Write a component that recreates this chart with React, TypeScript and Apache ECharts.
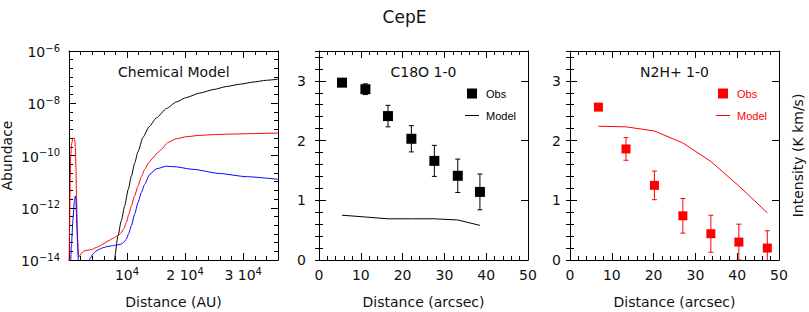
import React, { useEffect, useRef } from "react";
import * as echarts from "echarts";

// ---------- Left panel: chemical model (distance in AU, log10 abundance) ----------
const blackDistAU = [7500, 7800, 8440, 9000, 9590, 10200, 10740, 11300, 11890, 12750, 13800, 15050, 16800, 18500, 20220, 22500, 25000, 27100, 29500, 31700, 34000, 36000];
const blackLogAbund = [-15, -14.0, -13.07, -12.5, -11.93, -11.3, -10.79, -10.3, -9.85, -9.3, -8.9, -8.56, -8.2, -7.95, -7.78, -7.61, -7.47, -7.36, -7.27, -7.19, -7.12, -7.08];

const redDistAU = [0, 100, 200, 300, 450, 650, 850, 1000, 1100, 1200, 1300, 1420, 1550, 1700, 1850, 2200, 2700, 3300, 3860, 4500, 5290, 6000, 6720, 7500, 8160, 8600, 9020, 9450, 9880, 10300, 10740, 11300, 11890, 12450, 13040, 13700, 14470, 15200, 15910, 17000, 18500, 20220, 22500, 25000, 28000, 32000, 36000];
const redLogAbund = [-14.6, -12.8, -11.0, -10.0, -9.55, -9.38, -9.32, -9.4, -9.7, -10.5, -11.6, -12.8, -13.6, -13.88, -13.84, -13.72, -13.65, -13.62, -13.6, -13.54, -13.46, -13.37, -13.27, -13.18, -13.1, -13.04, -12.95, -12.8, -12.56, -12.25, -11.93, -11.55, -11.17, -10.82, -10.53, -10.28, -10.09, -9.9, -9.77, -9.5, -9.36, -9.28, -9.23, -9.2, -9.18, -9.16, -9.14];

const blueDistAU = [0, 200, 410, 690, 900, 1100, 1200, 1270, 1450, 1620, 1750, 3000, 3300, 3570, 4130, 4700, 5290, 6000, 6720, 7500, 8160, 9020, 9450, 9880, 10300, 10740, 11300, 11890, 12450, 13040, 13900, 15050, 16780, 18210, 21360, 25950, 30540, 36000];
const blueLogAbund = [-15.5, -14.5, -13.46, -12.44, -11.8, -11.55, -11.7, -12.18, -13.2, -14.1, -15.3, -15.3, -14.6, -13.96, -13.77, -13.65, -13.58, -13.52, -13.48, -13.45, -13.43, -13.39, -13.32, -13.2, -12.98, -12.69, -12.25, -11.8, -11.42, -11.1, -10.72, -10.51, -10.41, -10.43, -10.53, -10.69, -10.81, -10.91];

// ---------- Middle panel: C18O 1-0 ----------
const c18oDist = [5.5, 11.1, 16.5, 22.1, 27.6, 33.2, 38.5];
const c18oObs = [2.97, 2.86, 2.41, 2.03, 1.66, 1.41, 1.14];
const c18oErr = [0.03, 0.09, 0.18, 0.22, 0.26, 0.28, 0.3];
const c18oModel = [0.75, 0.72, 0.69, 0.69, 0.69, 0.67, 0.58];

// ---------- Right panel: N2H+ 1-0 ----------
const n2hDist = [6.8, 13.4, 20.2, 27.0, 33.7, 40.4, 47.2];
const n2hObs = [2.56, 1.86, 1.25, 0.74, 0.44, 0.3, 0.2];
const n2hErr = [0.03, 0.19, 0.24, 0.29, 0.31, 0.3, 0.29];
const n2hModel = [2.24, 2.23, 2.16, 1.96, 1.65, 1.24, 0.79];

// ---------- Tick labels ----------
const abundTickExps = [-14, -12, -10, -8, -6];
const auTickValues = [10000, 20000, 30000];
const intensityTicks = [0, 1, 2, 3];

const FONT = "'DejaVu Sans', sans-serif";
const BLACK = "#000";
const TEXT = "#111";
const RED = "#ff0000";
const BLUE = "#0000ff";

const tickLine = { color: BLACK, width: 1 };

function major(gridIndex: number, position: string, min: number, max: number, interval: number, extra: any = {}) {
  return {
    type: "value", gridIndex, position, min, max, interval,
    axisLine: { show: true, onZero: false, lineStyle: tickLine },
    axisTick: { show: true, inside: true, length: 7, lineStyle: tickLine },
    minorTick: { show: false },
    axisLabel: { show: false },
    splitLine: { show: false },
    minorSplitLine: { show: false },
    ...extra,
  };
}
function minor(gridIndex: number, position: string, min: number, max: number, interval: number) {
  return {
    type: "value", gridIndex, position, min, max, interval,
    axisLine: { show: false },
    axisTick: { show: true, inside: true, length: 4, lineStyle: tickLine },
    axisLabel: { show: false },
    splitLine: { show: false },
  };
}

const supRich = {
  b: { fontFamily: FONT, fontSize: 14, color: TEXT, lineHeight: 16, padding: [4, 0, 0, 0], verticalAlign: "bottom" },
  s: { fontFamily: FONT, fontSize: 10, color: TEXT, lineHeight: 10, verticalAlign: "top" },
};
const nameStyle = { fontFamily: FONT, fontSize: 14, color: TEXT };
const labelStyle = { fontFamily: FONT, fontSize: 14, color: TEXT };

function errRender(color: string) {
  return (params: any, api: any) => {
    const x = api.value(0), y = api.value(1), e = api.value(2);
    const top = api.coord([x, y + e]);
    const bot = api.coord([x, y - e]);
    const w = 2.5;
    const style = { stroke: color, lineWidth: 1 };
    return {
      type: "group",
      children: [
        { type: "line", shape: { x1: top[0], y1: top[1], x2: bot[0], y2: bot[1] }, style },
        { type: "line", shape: { x1: top[0] - w, y1: top[1], x2: top[0] + w, y2: top[1] }, style },
        { type: "line", shape: { x1: bot[0] - w, y1: bot[1], x2: bot[0] + w, y2: bot[1] }, style },
      ],
    };
  };
}

function buildOption() {
  const xAxis: any[] = [];
  const yAxis: any[] = [];
  const push = (arr: any[], o: any) => { arr.push(o); return arr.length - 1; };

  // ---- grid 0: chemical model ----
  const x0 = push(xAxis, major(0, "bottom", 0, 36000, 10000, {
    axisLabel: {
      show: true, margin: 6, rich: supRich,
      formatter: (v: number) => {
        if (!auTickValues.includes(v)) return "";
        const k = v / 10000;
        return k === 1 ? "{b|10}{s|4}" : `{b|${k} 10}{s|4}`;
      },
    },
    name: "Distance (AU)", nameLocation: "middle", nameGap: 35, nameTextStyle: nameStyle,
  }));
  push(xAxis, major(0, "top", 0, 36000, 10000));
  push(xAxis, minor(0, "bottom", 0, 36000, 2000));
  push(xAxis, minor(0, "top", 0, 36000, 2000));
  const minor6 = { show: true, splitNumber: 6, length: 4, lineStyle: tickLine };
  const y0 = push(yAxis, major(0, "left", -14, -6, 2, {
    minorTick: minor6,
    axisLabel: {
      show: true, margin: 9, rich: supRich,
      formatter: (v: number) => abundTickExps.includes(v) ? `{b|10}{s|${v < 0 ? "\u2212" : ""}${Math.abs(v)}}` : "",
    },
    name: "Abundace", nameLocation: "middle", nameGap: 55, nameRotate: 90, nameTextStyle: nameStyle,
  }));
  push(yAxis, major(0, "right", -14, -6, 2, { minorTick: minor6 }));

  // ---- grids 1 & 2 ----
  const minor5 = { show: true, splitNumber: 5, length: 4, lineStyle: tickLine };
  const xi: number[] = [];
  const yi: number[] = [];
  [1, 2].forEach((g) => {
    xi[g] = push(xAxis, major(g, "bottom", 0, 50, 10, {
      minorTick: minor5,
      axisLabel: { show: true, margin: 8, ...labelStyle },
      name: "Distance (arcsec)", nameLocation: "middle", nameGap: 35, nameTextStyle: nameStyle,
    }));
    push(xAxis, major(g, "top", 0, 50, 10, { minorTick: minor5 }));
    yi[g] = push(yAxis, major(g, "left", 0, 3.5, 1, {
      axisLabel: {
        show: true, margin: g === 1 ? 13 : 9, ...labelStyle,
        formatter: (v: number) => intensityTicks.includes(v) ? String(v) : "",
      },
    }));
    push(yAxis, major(g, "right", 0, 3.5, 1, g === 2 ? {
      name: "Intensity (K km/s)", nameLocation: "middle", nameGap: 12, nameRotate: 90, nameTextStyle: nameStyle,
    } : {}));
    push(yAxis, minor(g, "left", 0, 3.5, 0.2));
    push(yAxis, minor(g, "right", 0, 3.5, 0.2));
  });

  const zip = (a: number[], b: number[]) => a.map((v, i) => [v, b[i]]);
  const zip3 = (a: number[], b: number[], c: number[]) => a.map((v, i) => [v, b[i], c[i]]);

  const lineCommon = { type: "line", showSymbol: false, symbol: "none", smooth: 0.2, smoothMonotone: "x", clip: true };

  const series: any[] = [
    { ...lineCommon, name: "black", xAxisIndex: x0, yAxisIndex: y0, data: zip(blackDistAU, blackLogAbund), lineStyle: { color: BLACK, width: 1 }, itemStyle: { color: BLACK } },
    { ...lineCommon, name: "red", xAxisIndex: x0, yAxisIndex: y0, data: zip(redDistAU, redLogAbund), lineStyle: { color: RED, width: 1 }, itemStyle: { color: RED } },
    { ...lineCommon, name: "blue", xAxisIndex: x0, yAxisIndex: y0, data: zip(blueDistAU, blueLogAbund), lineStyle: { color: BLUE, width: 1 }, itemStyle: { color: BLUE } },

    { type: "custom", name: "c18oErr", xAxisIndex: xi[1], yAxisIndex: yi[1], clip: true, encode: { x: 0, y: 1 }, data: zip3(c18oDist, c18oObs, c18oErr), renderItem: errRender(BLACK), z: 3 },
    { type: "scatter", name: "Obs", xAxisIndex: xi[1], yAxisIndex: yi[1], symbol: "rect", symbolSize: 10, data: zip(c18oDist, c18oObs), itemStyle: { color: BLACK, opacity: 1 }, z: 4 },
    { type: "line", name: "Model", xAxisIndex: xi[1], yAxisIndex: yi[1], symbol: "none", showSymbol: false, data: zip(c18oDist, c18oModel), lineStyle: { color: BLACK, width: 1 }, itemStyle: { color: BLACK } },

    { type: "custom", name: "n2hErr", xAxisIndex: xi[2], yAxisIndex: yi[2], clip: true, encode: { x: 0, y: 1 }, data: zip3(n2hDist, n2hObs, n2hErr), renderItem: errRender(RED), z: 3 },
    { type: "scatter", name: "Obs ", xAxisIndex: xi[2], yAxisIndex: yi[2], symbol: "rect", symbolSize: 9, data: zip(n2hDist, n2hObs), itemStyle: { color: RED, opacity: 1 }, z: 4 },
    { type: "line", name: "Model ", xAxisIndex: xi[2], yAxisIndex: yi[2], symbol: "none", showSymbol: false, data: zip(n2hDist, n2hModel), lineStyle: { color: RED, width: 1 }, itemStyle: { color: RED } },
  ];

  const legendText = { fontFamily: "'Liberation Sans', sans-serif", fontSize: 11 };
  const squareIcon = "path://M0,0H10V10H0Z";
  const lineIcon = "path://M0,0H14V1H0Z";

  return {
    animation: false,
    backgroundColor: "#fff",
    title: {
      text: "CepE", left: "center", top: 3,
      textStyle: { fontFamily: FONT, fontSize: 17, fontWeight: "normal", color: TEXT },
    },
    grid: [
      { left: 69, top: 51, width: 209, height: 209, outerBoundsMode: "none" },
      { left: 319, top: 51, width: 209, height: 209, outerBoundsMode: "none" },
      { left: 570, top: 51, width: 209, height: 209, outerBoundsMode: "none" },
    ],
    legend: [
      {
        left: 465, top: 88, padding: 0, orient: "vertical", itemWidth: 14, itemHeight: 10, itemGap: 11, selectedMode: false,
        textStyle: { ...legendText, color: BLACK, padding: [0, 0, 0, 2] },
        data: [
          { name: "Obs", icon: squareIcon, itemStyle: { color: BLACK, opacity: 1 } },
          { name: "Model", icon: lineIcon, itemStyle: { color: BLACK, opacity: 1 } },
        ],
      },
      {
        left: 716, top: 88, padding: 0, orient: "vertical", itemWidth: 14, itemHeight: 10, itemGap: 11, selectedMode: false,
        textStyle: { ...legendText, color: RED, padding: [0, 0, 0, 2] },
        formatter: (n: string) => n.trim(),
        data: [
          { name: "Obs ", icon: squareIcon, itemStyle: { color: RED, opacity: 1 } },
          { name: "Model ", icon: lineIcon, itemStyle: { color: RED, opacity: 1 } },
        ],
      },
    ],
    graphic: [
      { type: "text", x: 173.8, y: 72, style: { text: "Chemical Model", font: `14px ${FONT}`, fill: TEXT, textAlign: "center", textVerticalAlign: "middle" } },
      { type: "text", x: 423.5, y: 72, style: { text: "C18O 1-0", font: `14px ${FONT}`, fill: TEXT, textAlign: "center", textVerticalAlign: "middle" } },
      { type: "text", x: 674.5, y: 72, style: { text: "N2H+ 1-0", font: `14px ${FONT}`, fill: TEXT, textAlign: "center", textVerticalAlign: "middle" } },
    ],
    xAxis,
    yAxis,
    series,
  };
}

export default function App() {
  const ref = useRef<HTMLDivElement>(null);
  useEffect(() => {
    if (!ref.current) return;
    const chart = echarts.init(ref.current, null, { renderer: "svg", width: 809, height: 312 });
    chart.setOption(buildOption() as any);
    return () => chart.dispose();
  }, []);
  return (
    <div
      ref={ref}
      style={{ position: "fixed", left: 0, top: 0, width: 809, height: 312, background: "#fff" }}
    />
  );
}
